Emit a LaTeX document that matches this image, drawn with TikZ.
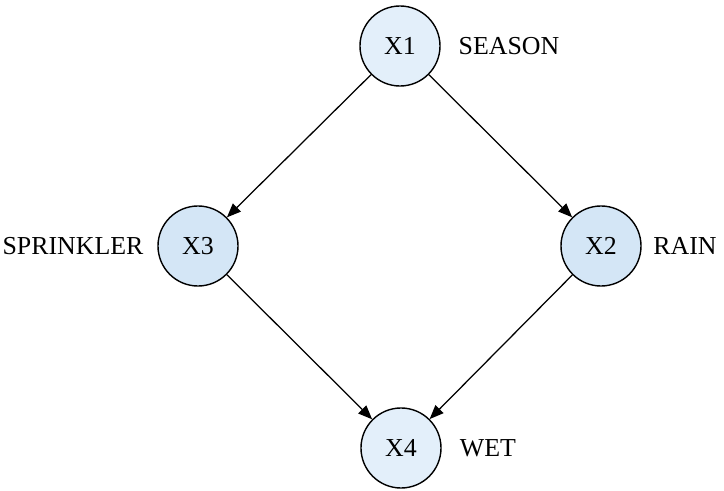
\documentclass[tikz,border=0pt]{standalone}
\usepackage{fontspec}
\setmainfont{Liberation Serif}
\definecolor{NodeLight}{RGB}{227,239,250}
\definecolor{NodeMid}{RGB}{212,230,246}
\usetikzlibrary{arrows.meta, positioning}

\begin{document}
\begin{tikzpicture}[x=0.025cm, y=-0.025cm, font=\fontsize{18.4}{22}\selectfont,
	var/.style={circle, draw=black, line width=1pt, fill=NodeLight, minimum size=2cm, inner sep=0pt},
	varb/.style={var, fill=NodeMid},
	lbl/.style={inner sep=0pt},
	fl/.style={-{Triangle[length=10pt, width=8pt]}, line width=0.9pt}]

	\useasboundingbox (0,0) rectangle (724,491);

	\node[var]  (x1) at (400, 46) {X1};
	\node[varb] (x3) at (198,246) {X3};
	\node[varb] (x2) at (601,246) {X2};
	\node[var]  (x4) at (401,448) {X4};

	% nombres de las variables
	\node[lbl] (season)    at (509, 46) {SEASON};
	\node[lbl] (sprinkler) at ( 73,246) {SPRINKLER};
	\node[lbl] (rain)      at (685,246) {RAIN};
	\node[lbl] (wet)       at (488,448) {WET};

	\draw[fl] (x1) -- (x3);
	\draw[fl] (x1) -- (x2);
	\draw[fl] (x3) -- (x4);
	\draw[fl] (x2) -- (x4);
\end{tikzpicture}
\end{document}
